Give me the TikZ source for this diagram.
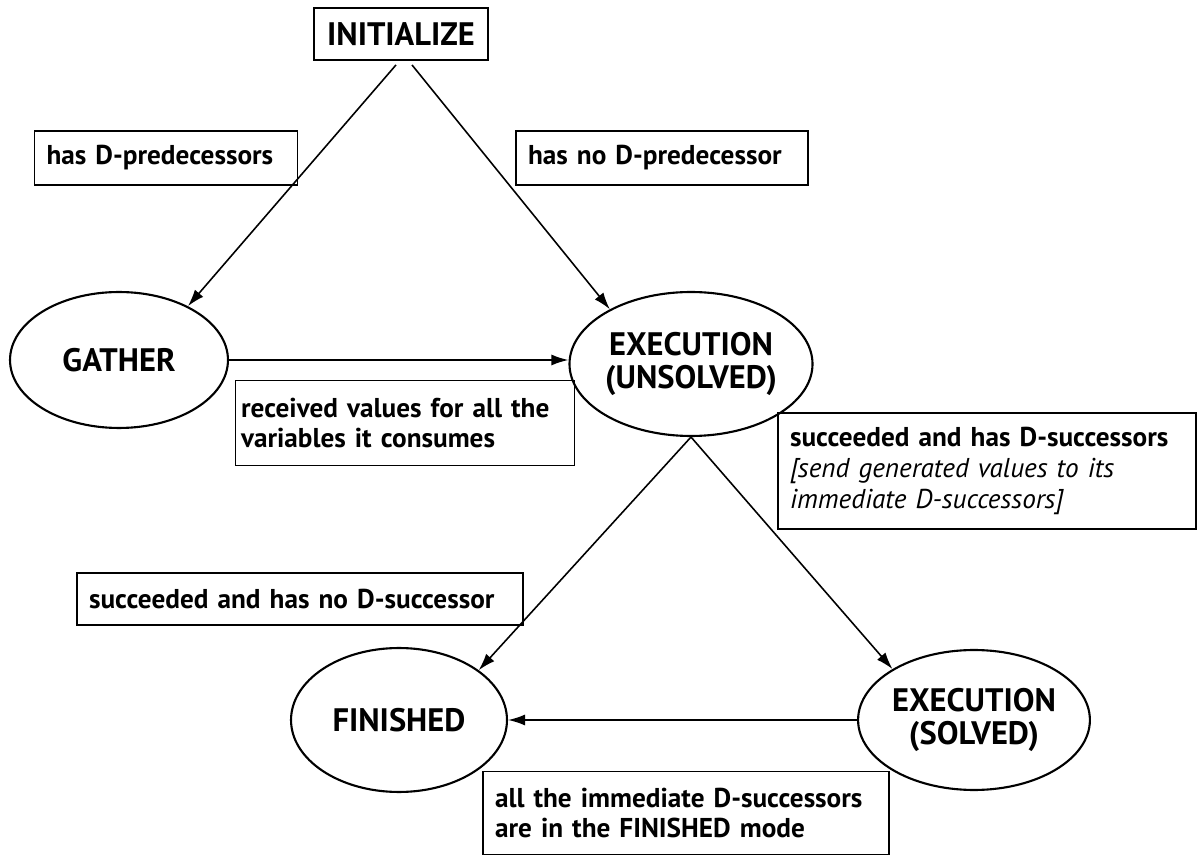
\documentclass[tikz,border=0pt]{standalone}
\usepackage{fontspec}
\setmainfont{PT Sans}
\usetikzlibrary{shapes.geometric}
\usetikzlibrary{arrows.meta}
\tikzset{>={Latex[width=2.2mm,length=3.4mm]}}

\begin{document}
\begin{tikzpicture}[x=0.02cm,y=-0.02cm]
% Define styles
\tikzstyle{mode} = [ellipse, draw, line width=1.2pt, inner sep=0pt, align=center, font=\fontsize{18.5}{19}\selectfont\bfseries]
\tikzstyle{start} = [rectangle, draw, line width=1.1pt, inner sep=0pt, font=\fontsize{18.5}{19}\selectfont\bfseries]
\tikzstyle{cond} = [rectangle, draw, line width=1pt, align=left, inner xsep=0.24cm, inner ysep=0pt, font=\fontsize{15.5}{17.6}\selectfont\bfseries]
\useasboundingbox (0,0) rectangle (1200,857);
% Define nodes
\node[start, minimum width=3.48cm, minimum height=1.04cm] (init) at (401,34) {INITIALIZE};
\node[mode, minimum width=4.36cm, minimum height=2.72cm] (gather) at (119,360) {GATHER};
\node[mode, minimum width=4.36cm, minimum height=2.88cm] (unsolved) at (691,364) {EXECUTION\\(UNSOLVED)};
\node[mode, minimum width=4.32cm, minimum height=2.88cm] (finished) at (399,720) {FINISHED};
\node[mode, minimum width=4.36cm, minimum height=2.80cm] (solved) at (974,720) {EXECUTION\\(SOLVED)};
% Conditions
\node[cond, text width=4.78cm, minimum height=1.08cm] (haspred) at (166,158) {has D-predecessors};
\node[cond, text width=5.36cm, minimum height=1.08cm] (nopred) at (662,158) {has no D-predecessor};
\node[cond, text width=6.56cm, inner xsep=0.11cm, minimum height=1.70cm] (received) at (405,423) {received values for all the\\variables it consumes};
\node[cond, text width=7.88cm, minimum height=2.32cm] (hassucc) at (987,471) {succeeded and has D-successors\\{\mdseries\itshape [send generated values to its}\\{\mdseries\itshape immediate D-successors]}};
\node[cond, text width=8.44cm, minimum height=1.04cm] (nosucc) at (300,599) {succeeded and has no D-successor};
\node[cond, text width=7.64cm, minimum height=1.66cm] (allfin) at (686,813) {all the immediate D-successors\\are in the FINISHED mode};
% Connect the nodes
\draw[->, line width=0.9pt] ([xshift=-0.1cm,yshift=-0.08cm]init.south) -- (gather.38);
\draw[->, line width=0.9pt] ([xshift=0.22cm,yshift=-0.08cm]init.south) -- (unsolved.146);
\draw[->, line width=0.9pt] (gather.east) -- (gather.east -| unsolved.west);
\draw[->, line width=0.9pt] (unsolved.south) -- (finished.32);
\draw[->, line width=0.9pt] (unsolved.south) -- (solved.148);
\draw[->, line width=0.9pt] (solved.west) -- (finished.east);
\end{tikzpicture}
\end{document}
